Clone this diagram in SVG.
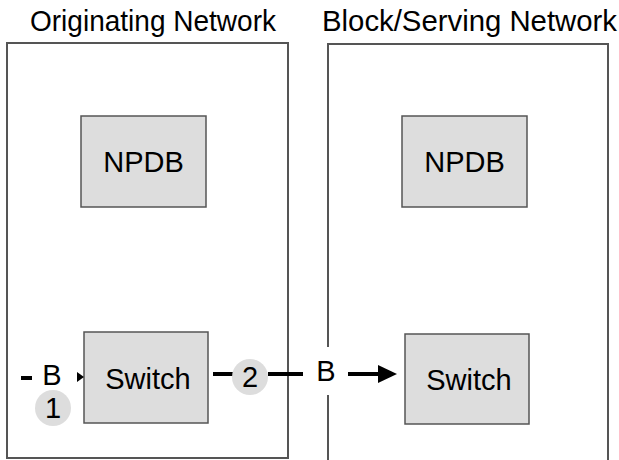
<svg xmlns="http://www.w3.org/2000/svg" width="619" height="460" viewBox="0 0 619 460">
<style>
text{font-family:"Liberation Sans",Arial,sans-serif;fill:#000;}
.title{font-size:29px;text-anchor:middle;}
.lbl{font-size:29px;text-anchor:middle;}
.node{fill:#dddddd;stroke:#555;stroke-width:1.5;}
.frame{fill:none;stroke:#555;stroke-width:2;}
.conn{stroke:#000;stroke-width:4;fill:none;}
.badge{fill:#dddddd;}
</style>
<rect width="619" height="460" fill="#fff"/>
<g id="originating-network">
<rect class="frame" x="7" y="43" width="281" height="415"/>
<text class="title" x="153" y="31" textLength="246" lengthAdjust="spacingAndGlyphs">Originating Network</text>
</g>
<g id="block-serving-network">
<path class="frame" d="M328,347 V44 H608 V470 M328,395 V470"/>
<text class="title" x="469.5" y="31" textLength="295" lengthAdjust="spacingAndGlyphs">Block/Serving Network</text>
</g>
<g id="npdb-orig">
<rect class="node" x="81" y="116" width="125" height="91"/>
<text class="lbl" x="143.5" y="172">NPDB</text>
</g>
<g id="npdb-serv">
<rect class="node" x="402" y="116" width="125" height="91"/>
<text class="lbl" x="464.5" y="172">NPDB</text>
</g>
<g id="switch-orig">
<rect class="node" x="84" y="332" width="124" height="91"/>
<text class="lbl" x="148" y="389">Switch</text>
</g>
<g id="switch-serv">
<rect class="node" x="405" y="334" width="124" height="90"/>
<text class="lbl" x="469" y="390">Switch</text>
</g>
<g id="connectors">
<line class="conn" x1="21" y1="378" x2="32" y2="378"/>
<text class="lbl" x="52" y="385">B</text>
<polygon points="77,372 84,377 77,382" fill="#000"/>
<circle class="badge" cx="53" cy="408" r="18"/>
<text class="lbl" x="53" y="418">1</text>
<line class="conn" x1="213" y1="374" x2="233" y2="374"/>
<circle class="badge" cx="250" cy="377" r="18"/>
<text class="lbl" x="250" y="387">2</text>
<line class="conn" x1="268" y1="374" x2="303" y2="374"/>
<text class="lbl" x="326" y="381">B</text>
<line class="conn" x1="348" y1="374" x2="382" y2="374"/>
<polygon points="378,365 397,374 378,383" fill="#000"/>
</g>
</svg>
